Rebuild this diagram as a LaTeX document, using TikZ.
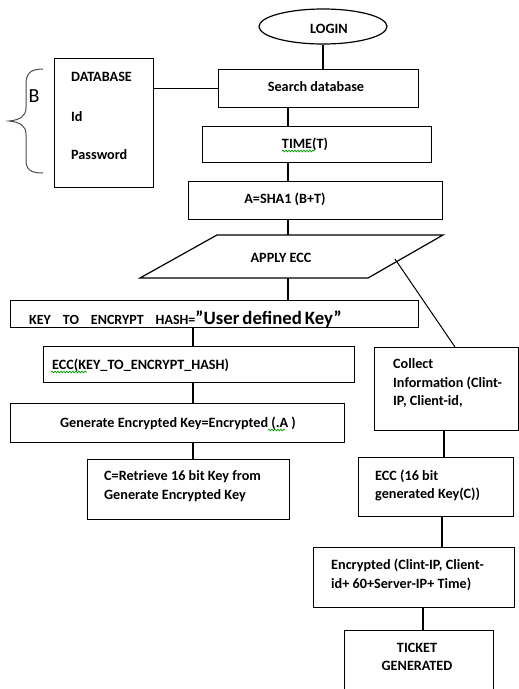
\documentclass[tikz,border=0pt]{standalone}
\usepackage{fontspec}
\setmainfont{Carlito}
\usetikzlibrary{shapes.geometric,decorations.pathmorphing}
\begin{document}
\begin{tikzpicture}[x=1pt,y=-1pt,
  box/.style={draw, line width=1.2pt, rectangle, inner sep=0pt, anchor=north west},
  txt/.style={inner sep=0pt, font=\fontsize{14.2}{18.5}\selectfont\bfseries, align=left},
  wire/.style={line width=1.2pt},
  squig/.style={green!60!black, line width=0.7pt, decorate, decoration={snake, segment length=3pt, amplitude=0.9pt}}]
\useasboundingbox (0,0) rectangle (519,689);
\clip (0,0) rectangle (519,689);

% boxes
\node[draw, line width=1.2pt, ellipse, minimum width=128pt, minimum height=35pt, inner sep=0pt] (login) at (323,26.5) {};
\node[box, minimum width=200pt, minimum height=38pt] (search) at (218,69) {};
\node[box, minimum width=99pt, minimum height=129pt] (db) at (54,58) {};
\node[box, minimum width=229pt, minimum height=36pt] (time) at (202,126) {};
\node[box, minimum width=254pt, minimum height=38pt] (sha) at (188,181) {};
\node[box, minimum width=408pt, minimum height=27pt] (key) at (10,300) {};
\node[box, minimum width=311pt, minimum height=36pt] (ecc) at (43,346) {};
\node[box, minimum width=334pt, minimum height=39pt] (gen) at (10,403) {};
\node[box, minimum width=202pt, minimum height=60pt] (cbox) at (87,459) {};
\node[box, minimum width=144pt, minimum height=83pt] (collect) at (374,347) {};
\node[box, minimum width=155pt, minimum height=59pt] (ecc16) at (358,457) {};
\node[box, minimum width=201pt, minimum height=60pt] (enc) at (313,547) {};
\node[box, minimum width=149pt, minimum height=80pt] (ticket) at (344,630) {};

% parallelogram
\coordinate (pTL) at (217,235);
\coordinate (pTR) at (443,235);
\coordinate (pBR) at (368,278);
\coordinate (pBL) at (140,278);
\coordinate (pR) at (395,259);
\draw[line width=1.2pt, line join=miter] (pTL) -- (pTR) -- (pBR) -- (pBL) -- cycle;

% helper columns
\coordinate (spine) at (288,0);
\coordinate (lx) at (193,0);
\coordinate (cx) at (455,0);
\coordinate (rx1) at (444,0);
\coordinate (rx2) at (442,0);
\coordinate (rx3) at (423,0);

% connectors
\draw[wire] (login.south) -- (login.south |- search.north);
\draw[wire] (search.west -| db.east) -- (search.west);
\draw[wire] (search.south -| spine) -- (time.north -| spine);
\draw[wire] (time.south -| spine) -- (sha.north -| spine);
\draw[wire] (sha.south -| spine) -- (spine |- pTL);
\draw[wire] (spine |- pBL) -- (key.north -| spine);
\draw[wire] (key.south -| lx) -- (ecc.north -| lx);
\draw[wire] (ecc.south -| lx) -- (gen.north -| lx);
\draw[wire] (gen.south -| lx) -- (cbox.north -| lx);
\draw[line width=1pt] (pR) -- (collect.north -| cx);
\draw[wire] (collect.south -| rx1) -- (ecc16.north -| rx1);
\draw[wire] (ecc16.south -| rx2) -- (enc.north -| rx2);
\draw[wire] (enc.south -| rx3) -- (ticket.north -| rx3);

% brace
\draw[gray!60!black, line width=1pt] (43,69) .. controls (31,69) and (26,73) .. (26,84) -- (26,108)
  .. controls (26,116) and (20,120) .. (9,121) .. controls (20,122) and (26,126) .. (26,134)
  -- (26,160) .. controls (26,170) and (31,173) .. (43,173);
\node[inner sep=0pt, font=\fontsize{20}{22}\selectfont] (bl) at (34,96) {B};

% texts
\node[txt] (tlogin) at (329,29) {LOGIN};
\node[txt] (tsearch) at (316,87) {Search database};
\node[txt, anchor=west] (tdb) at (71,77) {DATABASE};
\node[txt, anchor=west] (tid) at (71,117) {Id};
\node[txt, anchor=west] (tpw) at (71,155) {Password};
\node[txt] (ttime) at (305,144) {TIME(T)};
\node[txt] (tsha) at (285,199) {A=SHA1 (B+T)};
\node[txt] (tapply) at (281,258) {APPLY ECC};
\node[inner sep=0pt, anchor=base west] (tkey) at (29,324) {{\fontsize{14}{15}\selectfont\bfseries KEY\hspace{12pt}TO\hspace{12pt}ENCRYPT\hspace{12pt}HASH=}{\fontsize{18.8}{22}\selectfont\bfseries ”User\hspace{3pt}defined\hspace{3pt}Key”}};
\node[txt, anchor=west] (tecc) at (52,365) {ECC(KEY\_TO\_ENCRYPT\_HASH)};
\node[txt] (tgen) at (178,423) {Generate Encrypted Key=Encrypted (.A )};
\node[txt, anchor=west] (tc) at (104,486) {C=Retrieve 16 bit Key from\\Generate Encrypted Key};
\node[txt, anchor=west] (tcollect) at (393,383) {Collect\\Information (Clint-\\IP, Client-id,};
\node[txt, anchor=west] (tecc16) at (375,485.5) {ECC (16 bit\\generated Key(C))};
\node[txt, anchor=west] (tenc) at (331,575) {Encrypted (Clint-IP, Client-\\id+ 60+Server-IP+ Time)};
\node[txt, align=center] (tticket) at (417,657) {TICKET\\GENERATED};

% spelling squiggles
\draw[squig] (282,151) -- (315,151);
\draw[squig] (51,372) -- (87,372);
\draw[squig] (268,430) -- (285,430);
\end{tikzpicture}
\end{document}
